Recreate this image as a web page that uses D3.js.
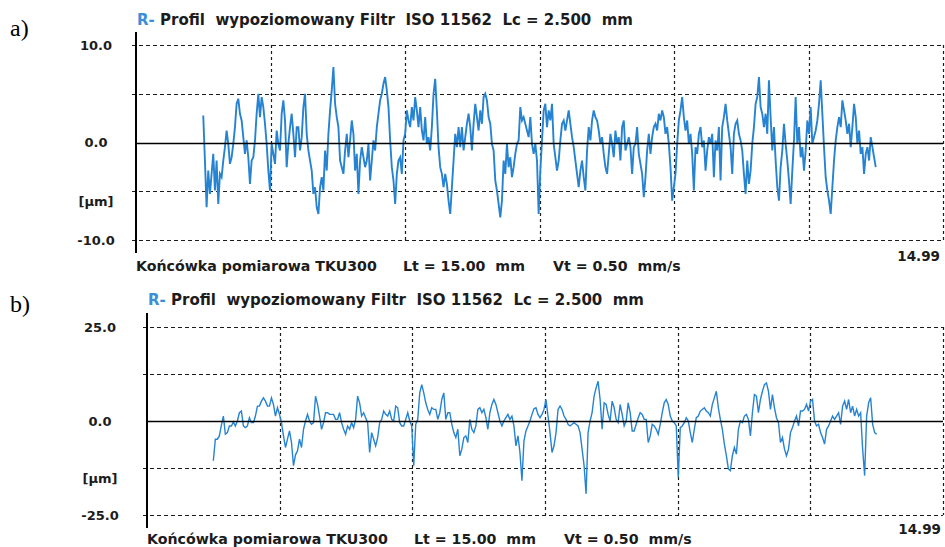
<!DOCTYPE html>
<html>
<head>
<meta charset="utf-8">
<script src="https://cdn.jsdelivr.net/npm/d3@7"></script>
<style>
  html, body { margin: 0; padding: 0; background: #fff; }
  svg { display: block; }
</style>
</head>
<body>
<svg id="chart" width="945" height="547"></svg>
<script>
// Roughness profiles (µm), sampled uniformly over the evaluation length
const profileA = [
  2.77,-1.85,-6.64,-2.88,-5.27,-3.22,-1.16,-4.93,-1.85,-6.30,
  -3.22,-3.56,-1.85,-0.48,1.23,-0.14,-2.19,-1.51,-0.14,1.58,
  3.97,4.49,2.95,2.26,0.55,-1.16,0.21,-1.51,-4.25,-1.85,
  -1.51,0.21,2.95,5.00,2.60,4.66,3.63,1.92,-0.14,-2.88,
  -4.93,-0.14,-1.16,-2.19,1.23,-0.14,-0.82,2.95,4.32,2.26,
  -2.53,-0.14,1.58,2.95,0.89,-1.51,1.58,1.58,-0.82,0.55,
  3.63,5.00,0.89,-0.82,-1.85,-2.88,-5.27,-4.59,-6.64,-7.33,
  -4.59,-3.56,-4.93,-0.82,-2.88,0.89,3.29,5.34,7.74,3.97,
  2.60,1.58,-1.85,-2.53,-3.22,-0.82,0.89,-1.51,0.21,2.26,
  0.89,-2.88,-1.16,-5.27,-1.85,-0.48,-1.51,-2.53,-1.85,-0.14,
  -3.90,-1.85,0.21,-0.82,1.58,2.95,4.32,5.00,6.03,6.71,
  5.34,3.63,0.21,-2.53,-3.90,-6.30,-3.22,-1.85,-1.51,-3.22,
  0.21,0.89,3.29,2.26,1.58,3.63,2.26,4.66,3.29,1.58,
  3.63,1.23,0.21,2.60,-0.14,0.55,
  -0.82,1.58,5.00,6.54,3.29,-0.48,-2.53,-3.22,-4.59,-3.22,
  -4.25,-5.96,-7.33,-4.59,-1.85,0.89,-0.48,1.58,-0.48,1.58,
  -0.82,0.55,1.92,2.95,1.58,-0.82,1.92,3.97,2.60,1.23,
  3.29,1.92,4.66,5.00,4.32,2.60,1.92,-0.14,-0.82,-3.90,
  -4.93,-6.30,-7.67,-5.96,-1.85,-3.22,-0.14,-2.53,-1.51,-3.56,
  -2.53,-1.16,-0.14,0.21,3.63,2.26,2.60,1.92,1.23,0.55,
  2.60,-0.14,-1.16,-0.14,-1.85,-7.33,-2.88,0.21,3.29,3.97,
  1.58,3.29,2.26,3.97,-0.14,-1.51,-2.88,-1.85,0.21,1.92,
  2.26,1.23,2.26,3.29,1.92,0.55,-0.48,-1.85,-3.22,-4.59,
  -2.88,-1.85,-3.56,-4.93,-0.82,1.58,0.21,2.26,3.29,2.60,
  2.26,1.23,-0.14,0.55,-1.16,-2.53,-3.22,-1.16,0.89,-0.14,
  -1.51,1.23,-0.14,0.55,-1.85,1.58,2.26,-0.82,-0.14,0.55,
  -0.48,-3.22,-0.48,-0.14,1.58,-1.16,-2.19,-3.22,-5.62,-3.56,
  -0.82,0.89,-1.16,0.55,1.58,1.92,
  1.23,2.95,2.26,3.29,2.60,0.89,1.58,-0.14,-2.53,-5.96,
  -4.59,-3.22,-0.14,2.26,3.29,4.66,2.60,1.23,2.26,-0.14,
  0.89,-1.16,-4.93,-0.48,-1.16,0.89,1.58,-0.48,0.21,-2.88,
  -0.82,0.55,-0.14,0.89,-3.56,0.21,-0.82,1.58,-3.90,1.58,
  2.60,3.97,2.26,0.89,-0.48,-3.22,0.89,1.92,2.26,0.89,
  0.21,-0.82,-3.22,-5.27,-1.85,-4.25,-2.88,-0.14,1.58,3.97,
  4.66,6.71,3.63,2.95,1.58,2.95,0.89,6.37,2.60,-0.82,
  1.58,-1.85,-4.59,-5.96,-2.53,-0.82,1.92,-0.14,-1.85,-3.90,
  -6.30,-2.88,0.21,4.66,-0.14,1.58,-1.51,-0.48,-2.88,-0.82,
  2.26,0.89,3.63,-0.14,0.55,1.23,2.26,3.97,6.37,2.95,
  -0.48,-3.56,-4.93,-5.96,-7.33,-4.59,-1.85,0.21,1.58,2.60,
  1.58,4.32,3.29,2.26,0.89,1.92,-0.48,1.58,3.97,2.60,
  -0.14,1.23,-1.16,-0.48,-3.22,-1.16,-0.48,-1.85,0.55,-0.48,
  -1.51,-2.53
];

const profileB = [
  -10.56,-4.84,-4.84,-3.96,-1.14,1.32,-3.52,-3.08,-1.32,-1.32,
  -0.26,-1.32,0.00,2.20,2.64,-1.32,-1.76,-1.32,0.88,-0.44,
  -0.44,1.32,3.96,3.96,5.28,6.16,5.28,3.96,3.96,6.16,
  4.40,1.32,3.52,1.76,-0.44,-3.96,-7.04,-4.84,-2.64,-5.72,
  -11.90,-9.00,-7.92,-4.84,-7.04,-2.20,0.00,1.76,0.00,-0.88,
  -0.44,6.60,4.40,1.32,-2.20,-0.44,2.20,2.20,1.76,1.76,
  1.76,0.44,0.44,2.20,-0.44,-2.20,-3.52,-1.32,-2.20,-0.44,
  -1.76,0.44,6.60,4.84,1.32,2.20,0.88,-0.44,-8.36,-3.08,
  -4.84,-6.60,-4.40,-0.44,0.44,2.64,1.76,1.32,2.64,0.44,
  0.00,3.96,3.52,-0.44,-1.32,-1.32,0.44,2.20,0.00,-1.32,
  -11.88,-0.88,0.44,7.48,9.68,7.48,4.84,3.08,1.76,3.52,
  3.08,
  3.08,0.44,2.20,5.72,7.48,0.44,2.20,2.20,-0.88,-3.08,
  -4.40,-2.20,-9.24,-7.48,-4.40,-3.96,-5.72,0.44,-2.20,-3.08,
  -1.32,3.08,3.52,2.20,3.08,0.88,-2.20,2.20,4.40,5.72,
  4.40,2.20,0.00,-1.32,0.00,0.88,1.76,0.44,1.32,-1.32,
  -6.60,-3.96,-8.36,-15.85,-5.28,-2.64,-1.32,0.00,1.76,3.26,
  3.52,1.76,0.88,1.76,3.08,5.72,1.32,-3.08,-8.36,-6.60,
  -3.08,3.08,3.96,3.08,1.32,0.44,-0.88,-1.32,-0.88,-0.44,
  -0.88,-1.32,-3.08,-7.48,-11.88,-19.37,-3.08,0.00,2.20,6.60,
  8.80,10.56,5.72,-2.20,4.84,4.40,1.76,0.00,5.28,3.52,
  0.44,-0.44,4.40,1.76,-1.32,0.00,4.84,2.20,-2.64,-2.64,
  -0.88,0.88,2.20,1.76,0.44,0.44,-5.72,-3.96,-0.88,-1.32,
  -2.20,
  -3.52,-0.88,2.20,4.84,5.72,4.40,1.32,0.00,-0.44,-1.32,
  -14.96,-1.76,-1.32,-0.44,0.88,0.00,-3.08,-5.72,-2.20,0.88,
  1.32,2.64,3.08,3.52,2.64,2.20,1.32,4.40,6.16,7.92,
  3.52,0.44,-2.20,-6.16,-9.24,-12.76,-13.20,-9.24,-7.04,-8.80,
  -2.20,0.00,-0.44,1.32,1.76,0.44,-3.96,2.20,7.04,6.60,
  2.20,5.72,7.92,9.68,10.12,7.92,3.08,7.04,3.52,0.88,
  -0.44,-5.72,-4.40,-7.48,-9.24,-7.48,-3.08,-1.76,0.00,1.32,
  -1.32,2.64,2.64,3.08,4.40,2.64,5.28,5.72,0.00,-1.32,
  -0.88,-3.08,-4.40,-6.16,-2.20,-1.32,0.00,1.32,0.44,1.32,
  2.20,-0.88,3.96,5.28,3.08,5.72,2.20,3.96,1.32,3.08,
  1.32,2.20,-7.48,-14.52,1.32,4.84,6.16,-0.88,-3.08,-3.52
];

// Traverse / evaluation geometry (mm)
const traverseRange = [0, 15];
const evaluationRange = [1.25, 13.75];
const cutoffMarks = [2.5, 5, 7.5, 10, 12.5, 15];
const traverseEndLabel = "14.99";

// Vertical ranges (µm) and their tick labels
const rangesUm = [10, 25];
const tickLabelsA = ["10.0", "0.0", "-10.0"];
const tickLabelsB = ["25.0", "0.0", "-25.0"];
const unitLabel = "[µm]";

const panelLetters = ["a)", "b)"];
const titleLead = "R-";
const titleText = " Profil  wypoziomowany Filtr  ISO 11562  Lc = 2.500  mm";
const footerParts = ["Końcówka pomiarowa TKU300", "Lt = 15.00  mm", "Vt = 0.50  mm/s"];

// Layout of the two stacked panels
const layout = [
  { left: 136, right: 943, top: 45, bottom: 240, axisTop: 32, axisBottom: 253,
    labelX: 96, unitAt: -6, titleY: 25, footerY: 271, endY: 261, letterY: 36, endX: 940,
    traceWidth: 1.9 },
  { left: 147, right: 943, top: 327, bottom: 515, axisTop: 313, axisBottom: 528,
    labelX: 100, unitAt: -15.2, titleY: 305, footerY: 544, endY: 534, letterY: 312, endX: 941,
    traceWidth: 1.4 }
];

const SANS = "'DejaVu Sans', Verdana, sans-serif";
const SERIF = "'Liberation Serif', 'Times New Roman', serif";
const INK = "#1c1c1c";
const TRACE = "#2683d2";
const TITLE_BLUE = "#3a8fd8";

const svg = d3.select("#chart");
svg.append("rect").attr("width", 945).attr("height", 547).attr("fill", "#fff");

const panels = [
  { data: profileA, max: rangesUm[0], labels: tickLabelsA, L: layout[0], letter: panelLetters[0] },
  { data: profileB, max: rangesUm[1], labels: tickLabelsB, L: layout[1], letter: panelLetters[1] }
];

panels.forEach(p => {
  const L = p.L;
  const g = svg.append("g");

  const x = d3.scaleLinear().domain(traverseRange).range([L.left, L.right]);
  const y = d3.scaleLinear().domain([-p.max, p.max]).range([L.bottom, L.top]);

  // horizontal dashed grid: full range and half range
  const gridLevels = [p.max, p.max / 2, -p.max / 2, -p.max];
  g.selectAll("line.hgrid").data(gridLevels).join("line")
    .attr("class", "hgrid")
    .attr("x1", L.left - 4).attr("x2", x(traverseRange[1]))
    .attr("y1", d => Math.round(y(d)) + 0.5).attr("y2", d => Math.round(y(d)) + 0.5)
    .attr("stroke", INK).attr("stroke-width", 1.2)
    .attr("stroke-dasharray", "4,3");

  // vertical dashed grid at each cut-off length
  g.selectAll("line.vgrid").data(cutoffMarks).join("line")
    .attr("class", "vgrid")
    .attr("x1", d => Math.round(x(d)) + 0.5).attr("x2", d => Math.round(x(d)) + 0.5)
    .attr("y1", y(p.max)).attr("y2", y(-p.max))
    .attr("stroke", INK).attr("stroke-width", 1.2)
    .attr("stroke-dasharray", "3,3");

  // profile trace
  const n = p.data.length;
  const step = (evaluationRange[1] - evaluationRange[0]) / (n - 1);
  const line = d3.line()
    .x((d, i) => x(evaluationRange[0] + i * step))
    .y(d => y(d));
  g.append("path").datum(p.data)
    .attr("d", line)
    .attr("fill", "none")
    .attr("stroke", TRACE)
    .attr("stroke-width", L.traceWidth)
    .attr("stroke-linejoin", "miter");

  // mean (zero) line
  g.append("line")
    .attr("x1", L.left).attr("x2", x(traverseRange[1]))
    .attr("y1", Math.round(y(0)) + 0.5).attr("y2", Math.round(y(0)) + 0.5)
    .attr("stroke", "#000").attr("stroke-width", 1.5);

  // vertical axis line
  g.append("line")
    .attr("x1", L.left).attr("x2", L.left)
    .attr("y1", L.axisTop).attr("y2", L.axisBottom)
    .attr("stroke", "#000").attr("stroke-width", 2);

  // tick labels
  const tickVals = [p.max, 0, -p.max];
  g.selectAll("text.tick").data(tickVals).join("text")
    .attr("class", "tick")
    .attr("x", L.labelX).attr("y", d => y(d)).attr("dy", "0.36em")
    .attr("text-anchor", "middle")
    .attr("font-family", SANS).attr("font-weight", "bold").attr("font-size", 13)
    .attr("fill", INK)
    .text((d, i) => p.labels[i]);

  g.append("text")
    .attr("x", L.labelX).attr("y", y(L.unitAt)).attr("dy", "0.36em")
    .attr("text-anchor", "middle")
    .attr("font-family", SANS).attr("font-weight", "bold").attr("font-size", 13)
    .attr("fill", INK)
    .text(unitLabel);

  // title
  const title = g.append("text")
    .attr("x", L.left + 1).attr("y", L.titleY)
    .attr("font-family", SANS).attr("font-weight", "bold").attr("font-size", 15)
    .attr("fill", INK)
    .style("white-space", "pre");
  title.append("tspan").attr("fill", TITLE_BLUE).text(titleLead);
  title.append("tspan").text(titleText);

  // footer with probe and measuring conditions
  const footerOffsets = [0, 267, 417];
  footerParts.forEach((t, i) => {
    g.append("text")
      .attr("x", L.left + footerOffsets[i]).attr("y", L.footerY)
      .attr("font-family", SANS).attr("font-weight", "bold").attr("font-size", 14.2)
      .attr("fill", INK)
      .style("white-space", "pre")
      .text(t);
  });

  // traverse end value
  g.append("text")
    .attr("x", L.endX).attr("y", L.endY)
    .attr("text-anchor", "end")
    .attr("font-family", SANS).attr("font-weight", "bold").attr("font-size", 13.5)
    .attr("fill", INK)
    .text(traverseEndLabel);

  // panel letter
  g.append("text")
    .attr("x", 10).attr("y", L.letterY)
    .attr("font-family", SERIF).attr("font-size", 24)
    .attr("fill", "#000")
    .text(p.letter);
});
</script>
</body>
</html>
